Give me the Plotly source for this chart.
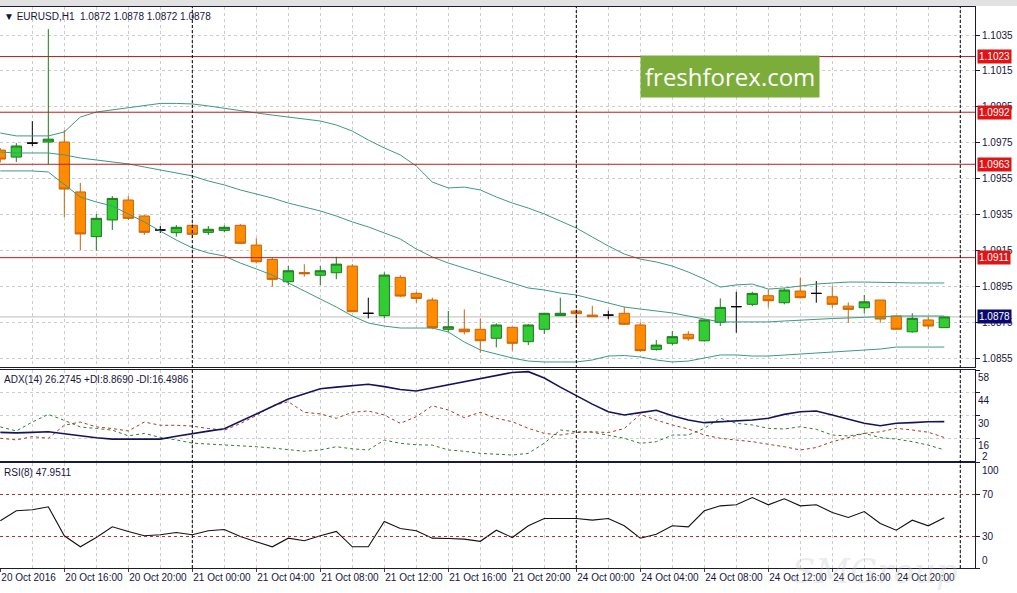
import plotly.graph_objects as go

# EURUSD H1 bars, 20 Oct 2016 12:00 -> 24 Oct 2016 23:00 (weekend skipped)
bar_open = [1.09709, 1.09670, 1.09748, 1.09754, 1.09754, 1.09476, 1.09227, 1.09320, 1.09431, 1.09342,
            1.09264, 1.09249, 1.09290, 1.09251, 1.09262, 1.09290, 1.09180, 1.09100, 1.08976, 1.09027,
            1.09012, 1.09026, 1.09063, 1.08800, 1.08787, 1.09000, 1.08911, 1.08874, 1.08711, 1.08712,
            1.08711, 1.08661, 1.08722, 1.08642, 1.08711, 1.08787, 1.08813, 1.08790, 1.08790, 1.08800,
            1.08735, 1.08599, 1.08633, 1.08683, 1.08647, 1.08750, 1.08837, 1.08850, 1.08898, 1.08859,
            1.08924, 1.08911, 1.08892, 1.08840, 1.08831, 1.08874, 1.08785, 1.08697, 1.08763, 1.08720]
bar_high = [1.09720, 1.09748, 1.09870, 1.10383, 1.09821, 1.09526, 1.09353, 1.09453, 1.09453, 1.09347,
            1.09286, 1.09292, 1.09297, 1.09286, 1.09290, 1.09297, 1.09218, 1.09110, 1.09063, 1.09073,
            1.09063, 1.09115, 1.09074, 1.08887, 1.09028, 1.09012, 1.08920, 1.08887, 1.08813, 1.08822,
            1.08772, 1.08744, 1.08725, 1.08740, 1.08803, 1.08887, 1.08820, 1.08842, 1.08815, 1.08837,
            1.08750, 1.08651, 1.08701, 1.08701, 1.08768, 1.08883, 1.08920, 1.08920, 1.08930, 1.08939,
            1.08998, 1.08980, 1.08954, 1.08861, 1.08902, 1.08874, 1.08785, 1.08800, 1.08781, 1.08780]
bar_low = [1.09640, 1.09643, 1.09732, 1.09631, 1.09336, 1.09152, 1.09149, 1.09264, 1.09320, 1.09236,
           1.09247, 1.09227, 1.09218, 1.09236, 1.09251, 1.09186, 1.09078, 1.08948, 1.08957, 1.09004,
           1.08957, 1.08990, 1.08807, 1.08772, 1.08772, 1.08889, 1.08859, 1.08711, 1.08697, 1.08683,
           1.08580, 1.08610, 1.08592, 1.08623, 1.08685, 1.08787, 1.08725, 1.08781, 1.08767, 1.08735,
           1.08586, 1.08592, 1.08623, 1.08647, 1.08642, 1.08729, 1.08692, 1.08840, 1.08833, 1.08850,
           1.08883, 1.08859, 1.08831, 1.08747, 1.08800, 1.08747, 1.08707, 1.08692, 1.08711, 1.08720]
bar_close = [1.09659, 1.09732, 1.09748, 1.09770, 1.09492, 1.09242, 1.09329, 1.09440, 1.09329, 1.09251,
             1.09264, 1.09279, 1.09240, 1.09268, 1.09279, 1.09190, 1.09087, 1.08989, 1.09037, 1.09020,
             1.09037, 1.09074, 1.08809, 1.08800, 1.09013, 1.08896, 1.08883, 1.08720, 1.08725, 1.08697,
             1.08647, 1.08735, 1.08633, 1.08735, 1.08800, 1.08800, 1.08798, 1.08781, 1.08790, 1.08739,
             1.08592, 1.08623, 1.08670, 1.08658, 1.08763, 1.08833, 1.08837, 1.08911, 1.08870, 1.08930,
             1.08887, 1.08911, 1.08850, 1.08822, 1.08864, 1.08768, 1.08711, 1.08772, 1.08729, 1.08780]

# Bollinger bands
bb_upper = [1.09804, 1.09788, 1.09788, 1.09788, 1.09810, 1.09893, 1.09921, 1.09932, 1.09943, 1.09955,
            1.09969, 1.09969, 1.09966, 1.09955, 1.09941, 1.09927, 1.09916, 1.09904, 1.09893, 1.09882,
            1.09871, 1.09849, 1.09815, 1.09765, 1.09721, 1.09682, 1.09620, 1.09531, 1.09498, 1.09503,
            1.09487, 1.09448, 1.09414, 1.09386, 1.09353, 1.09314, 1.09275, 1.09225, 1.09175, 1.09130,
            1.09102, 1.09086, 1.09063, 1.09030, 1.08991, 1.08946, 1.08958, 1.08963, 1.08935, 1.08941,
            1.08952, 1.08963, 1.08969, 1.08974, 1.08974, 1.08974, 1.08971, 1.08969, 1.08969, 1.08969]
bb_middle = [1.09698, 1.09693, 1.09693, 1.09693, 1.09682, 1.09665, 1.09654, 1.09643, 1.09632, 1.09615,
             1.09598, 1.09581, 1.09565, 1.09537, 1.09515, 1.09487, 1.09464, 1.09442, 1.09414, 1.09392,
             1.09370, 1.09342, 1.09309, 1.09281, 1.09247, 1.09214, 1.09158, 1.09114, 1.09080, 1.09052,
             1.09024, 1.08997, 1.08969, 1.08941, 1.08930, 1.08913, 1.08902, 1.08880, 1.08857, 1.08835,
             1.08824, 1.08813, 1.08802, 1.08785, 1.08768, 1.08752, 1.08752, 1.08752, 1.08752, 1.08757,
             1.08763, 1.08768, 1.08771, 1.08774, 1.08779, 1.08782, 1.08785, 1.08785, 1.08785, 1.08785]
bb_lower = [1.09593, 1.09593, 1.09593, 1.09587, 1.09515, 1.09448, 1.09420, 1.09398, 1.09353, 1.09309,
            1.09258, 1.09208, 1.09164, 1.09136, 1.09119, 1.09080, 1.09047, 1.09013, 1.08969, 1.08924,
            1.08880, 1.08835, 1.08785, 1.08746, 1.08729, 1.08718, 1.08718, 1.08718, 1.08696, 1.08640,
            1.08596, 1.08573, 1.08551, 1.08534, 1.08529, 1.08529, 1.08529, 1.08540, 1.08562, 1.08565,
            1.08557, 1.08540, 1.08529, 1.08534, 1.08551, 1.08568, 1.08568, 1.08562, 1.08562, 1.08568,
            1.08573, 1.08579, 1.08584, 1.08590, 1.08596, 1.08601, 1.08612, 1.08612, 1.08612, 1.08612]

# ADX(14)
adx_line = [19.6, 19.3, 19.6, 20.0, 18.8, 17.5, 16.3, 15.5, 15.5, 15.5,
            15.5, 17.2, 19.0, 20.4, 21.8, 26.5, 31.3, 35.5, 40.1, 43.4,
            46.5, 47.5, 48.5, 49.2, 47.8, 46.0, 45.1, 47.0, 49.0, 51.0,
            53.0, 55.0, 56.5, 57.0, 53.1, 47.5, 42.2, 37.0, 32.3, 30.3,
            31.8, 33.2, 29.9, 27.2, 25.6, 26.2, 26.6, 27.2, 28.3, 30.7,
            32.3, 32.8, 30.3, 27.6, 25.2, 23.7, 25.2, 25.6, 26.2, 26.27]
plus_di = [23.0, 20.5, 26.0, 30.7, 27.0, 23.0, 22.0, 21.0, 17.5, 19.0,
           16.5, 15.0, 13.0, 12.5, 12.0, 11.5, 10.8, 10.0, 8.8, 8.0,
           8.8, 10.8, 9.5, 8.8, 14.9, 12.9, 12.0, 11.8, 8.8, 8.0,
           6.7, 6.0, 5.7, 6.7, 13.0, 21.1, 20.0, 19.7, 18.0, 16.0,
           12.9, 13.9, 18.0, 18.0, 22.1, 28.3, 25.2, 24.2, 22.1, 21.7,
           23.1, 21.5, 18.0, 17.4, 19.0, 16.4, 15.5, 13.9, 11.8, 8.869]
minus_di = [16.0, 15.0, 17.0, 16.0, 24.0, 26.0, 23.0, 22.0, 20.5, 26.0,
            24.0, 24.0, 23.5, 22.0, 21.0, 25.0, 30.0, 36.0, 38.5, 32.0,
            31.0, 28.3, 32.0, 32.8, 30.3, 25.2, 29.3, 36.0, 33.4, 28.7,
            32.0, 28.3, 26.2, 22.1, 19.0, 18.0, 19.5, 20.0, 19.5, 22.0,
            30.7, 27.2, 24.2, 21.7, 18.0, 16.0, 14.9, 13.9, 12.3, 10.8,
            8.8, 10.3, 13.9, 16.4, 19.0, 20.0, 22.1, 21.1, 19.7, 16.4986]

# RSI(8)
rsi_values = [45.0, 54.5, 55.4, 58.3, 30.7, 20.2, 29.0, 39.2, 34.8, 30.7,
              31.6, 33.8, 31.6, 35.4, 36.7, 30.0, 24.9, 20.2, 28.4, 25.9,
              30.7, 34.8, 20.2, 20.2, 44.3, 37.6, 35.4, 28.4, 28.1, 27.5,
              25.4, 36.0, 29.0, 40.2, 47.1, 47.1, 47.1, 45.6, 47.1, 40.2,
              28.4, 32.2, 40.2, 39.2, 54.5, 59.2, 60.2, 67.1, 60.2, 65.9,
              59.2, 60.2, 52.9, 48.1, 53.8, 42.4, 36.0, 45.5, 40.2, 47.95]

time_labels = ["20 Oct 2016", "20 Oct 16:00", "20 Oct 20:00", "21 Oct 00:00", "21 Oct 04:00",
               "21 Oct 08:00", "21 Oct 12:00", "21 Oct 16:00", "21 Oct 20:00", "24 Oct 00:00",
               "24 Oct 04:00", "24 Oct 08:00", "24 Oct 12:00", "24 Oct 16:00", "24 Oct 20:00"]
day_starts = [12, 36, 60]  # bar index of 21 Oct, 24 Oct, 25 Oct 00:00
bars_per_label = 4

levels = [1.1023, 1.0992, 1.0963, 1.0911]
last_price = 1.0878
rsi_levels = [70, 30]
adx_ticks = [58, 44, 30, 16]
adx_min = 2
rsi_ticks = [100, 70, 30, 0]

FONT = "Liberation Sans, Arial, sans-serif"
TXT = "#15153a"
GRID = "#cdcdcd"
BAND = "#3e9985"

x_idx = list(range(len(bar_open)))


def pick(values, idx):
    return [values[i] for i in idx]


up_idx = [i for i in x_idx if bar_close[i] > bar_open[i]]
down_idx = [i for i in x_idx if bar_close[i] < bar_open[i]]
doji_idx = [i for i in x_idx if bar_close[i] == bar_open[i]]

fig = go.Figure()

# velas
for idx, line_c, fill_c in [(up_idx, "#1d7a1d", "#32cd32"),
                            (down_idx, "#c8640a", "#ff8c00"),
                            (doji_idx, "#000000", "#000000")]:
    fig.add_trace(go.Candlestick(
        x=idx, open=pick(bar_open, idx), high=pick(bar_high, idx),
        low=pick(bar_low, idx), close=pick(bar_close, idx),
        increasing=dict(line=dict(color=line_c, width=1), fillcolor=fill_c),
        decreasing=dict(line=dict(color=line_c, width=1), fillcolor=fill_c),
        whiskerwidth=0, xaxis="x", yaxis="y", showlegend=False, hoverinfo="skip"))

# bandas de Bollinger
for band in (bb_upper, bb_middle, bb_lower):
    fig.add_trace(go.Scatter(x=x_idx, y=band, mode="lines", line=dict(color=BAND, width=1),
                             xaxis="x", yaxis="y", showlegend=False, hoverinfo="skip"))

# ADX
fig.add_trace(go.Scatter(x=x_idx, y=plus_di, mode="lines", line=dict(color="#2f7d2f", width=1, dash="3px,3px"),
                         xaxis="x2", yaxis="y2", showlegend=False))
fig.add_trace(go.Scatter(x=x_idx, y=minus_di, mode="lines", line=dict(color="#a33a2a", width=1, dash="3px,3px"),
                         xaxis="x2", yaxis="y2", showlegend=False))
fig.add_trace(go.Scatter(x=x_idx, y=adx_line, mode="lines", line=dict(color="#14145a", width=1.6),
                         xaxis="x2", yaxis="y2", showlegend=False))

# RSI
fig.add_trace(go.Scatter(x=x_idx, y=rsi_values, mode="lines", line=dict(color="#111111", width=1.1),
                         xaxis="x3", yaxis="y3", showlegend=False))

shapes = []
for lv in levels:
    shapes.append(dict(type="line", xref="paper", x0=0, x1=1, yref="y", y0=lv, y1=lv,
                       line=dict(color="#c41a1a", width=1)))
shapes.append(dict(type="line", xref="paper", x0=0, x1=1, yref="y", y0=last_price, y1=last_price,
                   line=dict(color="#bdbdbd", width=1), layer="below"))
for lv in rsi_levels:
    shapes.append(dict(type="line", xref="paper", x0=0, x1=1, yref="y3", y0=lv, y1=lv,
                       line=dict(color="#b03030", width=1, dash="3px,3px")))
for d in day_starts:
    shapes.append(dict(type="line", xref="x", x0=d, x1=d, yref="paper", y0=0, y1=1,
                       line=dict(color="#000000", width=1, dash="3px,2px")))
# franja gris de la ventana arriba
shapes.append(dict(type="rect", xref="paper", x0=-0.01, x1=1.1, yref="paper", y0=1.002, y1=1.02,
                   fillcolor="#e2e2e2", line=dict(width=0)))

small = dict(family=FONT, size=10, color=TXT)
annotations = [
    dict(text="▼ EURUSD,H1  1.0872 1.0878 1.0872 1.0878", xref="paper", yref="paper", x=0.002, y=1,
         xanchor="left", yanchor="top", yshift=-2, showarrow=False, font=small),
    dict(text="ADX(14) 26.2745 +DI:8.8690 -DI:16.4986", xref="paper", yref="y2 domain", x=0.002, y=1,
         xanchor="left", yanchor="top", yshift=-2, showarrow=False, font=small),
    dict(text="RSI(8) 47.9511", xref="paper", yref="y3 domain", x=0.002, y=1,
         xanchor="left", yanchor="top", yshift=-2, showarrow=False, font=small),
    # etiquetas de los extremos, dentro del panel como en MT4
    dict(text=str(adx_min), xref="paper", yref="y2", x=1, y=adx_min, xanchor="left", yanchor="bottom",
         xshift=5, yshift=-3, showarrow=False, font=small),
    dict(text=str(rsi_ticks[0]), xref="paper", yref="y3", x=1, y=rsi_ticks[0], xanchor="left", yanchor="top",
         xshift=5, showarrow=False, font=small),
    dict(text=str(rsi_ticks[-1]), xref="paper", yref="y3", x=1, y=rsi_ticks[-1], xanchor="left",
         yanchor="bottom", xshift=5, showarrow=False, font=small),
    dict(text="freshforex.com", xref="paper", yref="paper", x=0.749, y=0.877, xanchor="center",
         yanchor="middle", showarrow=False, bgcolor="#7cad3a", borderpad=4,
         font=dict(family="Open Sans", size=24, color="white")),
    dict(text="<i>SMGroup</i>", xref="paper", yref="paper", x=0.985, y=-0.045, xanchor="right",
         yanchor="bottom", showarrow=False,
         font=dict(family="DejaVu Serif", size=34, color="rgba(190,190,190,0.3)")),
]
for lv in levels:
    annotations.append(dict(text=f"{lv:.4f}", xref="paper", yref="y", x=1, y=lv, xanchor="left", xshift=2,
                            yanchor="middle", showarrow=False, bgcolor="#e01414", borderpad=1,
                            font=dict(family=FONT, size=10, color="white")))
annotations.append(dict(text=f"{last_price:.4f}", xref="paper", yref="y", x=1, y=last_price, xanchor="left",
                        xshift=2, yanchor="middle", showarrow=False, bgcolor="#0a0a6e", borderpad=1,
                        font=dict(family=FONT, size=10, color="white")))

label_pos = [k * bars_per_label for k in range(len(time_labels))]
x_common = dict(showline=True, mirror=True, linecolor="#1a1a3a", linewidth=1, zeroline=False,
                tickmode="array", tickvals=label_pos, showgrid=True, gridcolor=GRID, griddash="3px,3px",
                minor=dict(tickmode="linear", tick0=0, dtick=2, showgrid=True, gridcolor=GRID,
                           griddash="3px,3px", ticks=""))
y_common = dict(side="right", showline=True, linecolor="#1a1a3a", linewidth=1, zeroline=False,
                ticks="outside", ticklen=4, tickcolor="#1a1a3a", tickfont=small,
                gridcolor=GRID, griddash="3px,3px", automargin=False)

fig.update_layout(
    width=1017, height=593,
    margin=dict(l=0, r=42, t=7, b=25),
    paper_bgcolor="white", plot_bgcolor="white",
    showlegend=False, boxgap=0.2, boxgroupgap=0.2,
    xaxis=dict(domain=[0, 1], anchor="y", range=[-0.02, 60.92], showticklabels=False, ticks="",
               rangeslider=dict(visible=False), **x_common),
    xaxis2=dict(domain=[0, 1], anchor="y2", matches="x", showticklabels=False, ticks="", **x_common),
    xaxis3=dict(domain=[0, 1], anchor="y3", matches="x", showticklabels=True, ticktext=time_labels,
                ticklabelposition="outside right", tickangle=0, ticks="outside", ticklen=3,
                tickfont=small, automargin=False, **x_common),
    yaxis=dict(domain=[0.3583, 1], anchor="x", range=[1.08501, 1.10506], tick0=1.0855, dtick=0.002,
               tickformat=".4f", showgrid=True, **y_common),
    yaxis2=dict(domain=[0.1907, 0.3529], anchor="x2", range=[adx_min, 58], tickmode="array",
                tickvals=adx_ticks, ticklabelposition="outside bottom", showgrid=True, **y_common),
    yaxis3=dict(domain=[0, 0.1872], anchor="x3", range=[0, 100], tickmode="array", tickvals=rsi_ticks,
                ticktext=["" if v in (rsi_ticks[0], rsi_ticks[-1]) else str(v) for v in rsi_ticks],
                showgrid=False, **y_common),
    shapes=shapes,
    annotations=annotations,
)

# sin margen del body para que el grafico ocupe la ventana entera
fig.write_html("out.html", config={"displayModeBar": False},
               post_script="document.body.style.margin='0px';")
